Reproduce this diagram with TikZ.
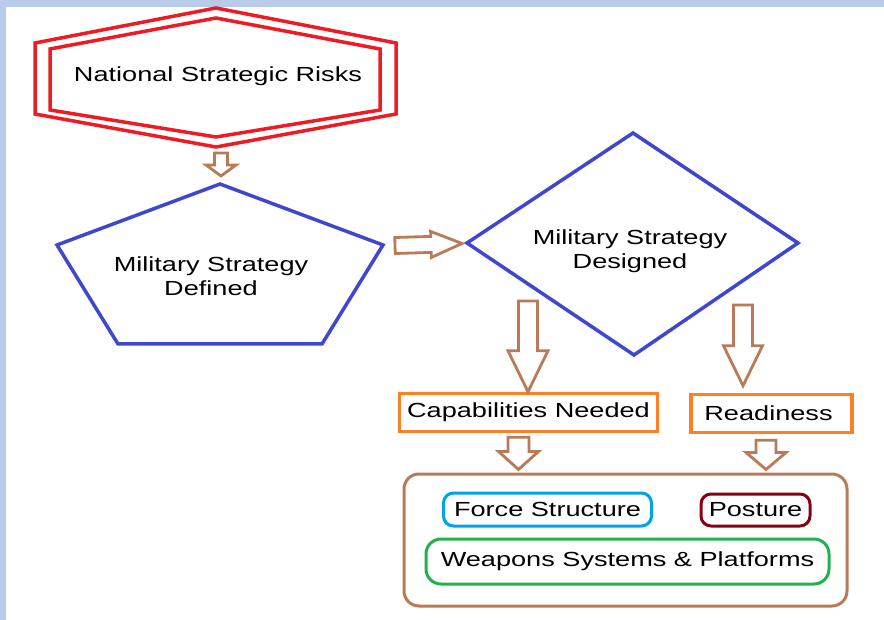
\documentclass[tikz,border=0pt]{standalone}
\usepackage{fontspec}
\setmainfont{Liberation Sans}[FakeStretch=1.33]
\usetikzlibrary{calc}
\definecolor{paneblue}{HTML}{B9CBE8}
\definecolor{riskred}{HTML}{ED1C24}
\definecolor{stratblue}{HTML}{3F48CC}
\definecolor{arrowbrown}{HTML}{B97A57}
\definecolor{capsorange}{HTML}{FF7F27}
\definecolor{forceblue}{HTML}{00A2E8}
\definecolor{postred}{HTML}{880015}
\definecolor{weapgreen}{HTML}{22B14C}

\begin{document}
\begin{tikzpicture}[x=1pt,y=-1pt,font=\fontsize{20.4}{23.5}\selectfont,
  riskline/.style={draw=riskred,line width=3.5pt,line join=miter},
  stratline/.style={draw=stratblue,line width=3.5pt,line join=miter},
  box/.style={draw=capsorange,line width=3.5pt,minimum height=38pt,inner sep=0pt},
  pill/.style={line width=3pt,rounded corners=10pt,inner sep=0pt},
  fat/.style n args={3}{draw=arrowbrown,line width=2.8pt,line join=miter,
    to path={let \p1=(\tikztostart), \p2=(\tikztotarget),
      \n1={atan2(\y2-\y1,\x2-\x1)} in
      ($(\p1)+(\n1+90:#1)$) -- ($(\p2)+(\n1+180:#3)+(\n1+90:#1)$)
      -- ($(\p2)+(\n1+180:#3)+(\n1+90:#2)$) -- (\p2)
      -- ($(\p2)+(\n1+180:#3)+(\n1-90:#2)$) -- ($(\p2)+(\n1+180:#3)+(\n1-90:#1)$)
      -- ($(\p1)+(\n1-90:#1)$) -- cycle}}]
% page
\fill[paneblue] (0,0) rectangle (884,620);
\fill[white] (6,7) rectangle (884,620);
\useasboundingbox (0,0) rectangle (884,620);

% national risks (double hexagon)
\draw[riskline] (216,8) -- (396,43) -- (396,114) -- (216,147) coordinate (risksbot)
  -- (35,114) -- (35,43) -- cycle;
\draw[riskline] (216,18) -- (380,49) -- (380,110) -- (216,137) -- (50,110) -- (50,49) -- cycle;
\node (risks) at (218,76) {National Strategic Risks};

% strategy defined (pentagon)
\draw[stratline] (220,184) coordinate (deftop) -- (383,245) coordinate (defright)
  -- (322,344) -- (118,344) -- (57,245) -- cycle;
\node[align=center] (defined) at (211,276) {Military Strategy\\Defined};

% strategy designed (diamond)
\draw[stratline] (467,243) coordinate (desleft) -- (633,133) -- (798,243)
  -- (634,355) coordinate (desbot) -- cycle;
\node[align=center] (designed) at (630,251) {Military Strategy\\Designed};

% needs
\node[box,minimum width=258pt] (capab) at (528.5,412.5) {Capabilities Needed};
\node[box,minimum width=161pt] (ready) at (771.5,413.5) {Readiness\hspace*{6pt}};

% force elements
\node[draw=arrowbrown,line width=3pt,rounded corners=15pt,minimum width=443pt,
  minimum height=132pt] (elements) at (625.5,540) {};
\node[pill,draw=forceblue,minimum width=208pt,minimum height=33pt] (force) at (547.5,509.5) {Force Structure};
\node[pill,draw=postred,minimum width=109pt,minimum height=32pt] (posture) at (755.5,510) {Posture};
\node[pill,draw=weapgreen,rounded corners=15pt,minimum width=403pt,minimum height=45pt]
  (weapons) at (627.5,561.5) {Weapons Systems \& Platforms};

% arrows
\draw[fat={6.5pt}{15pt}{11pt}] ([xshift=5pt,yshift=-6pt]risksbot) to ([xshift=1pt,yshift=8pt]deftop);
\draw[fat={8pt}{13pt}{31pt}] ([xshift=12pt,yshift=-0.5pt]defright) to ([xshift=-5pt,yshift=-0.5pt]desleft);
\draw[fat={9.5pt}{20pt}{41pt}] (528,301) to (capab.north -| 528,0);
\draw[fat={9.5pt}{19.5pt}{40pt}] (743,305) to ([yshift=7pt]ready.north -| 743,0);
\draw[fat={10.5pt}{20pt}{18pt}] ([xshift=-10pt,yshift=-4pt]capab.south)
  to ([xshift=-10pt,yshift=3pt]capab.south |- elements.north);
\draw[fat={10pt}{20pt}{17pt}] ([xshift=-5.5pt,yshift=-6pt]ready.south)
  to ([xshift=-5.5pt,yshift=3pt]ready.south |- elements.north);
\end{tikzpicture}
\end{document}
